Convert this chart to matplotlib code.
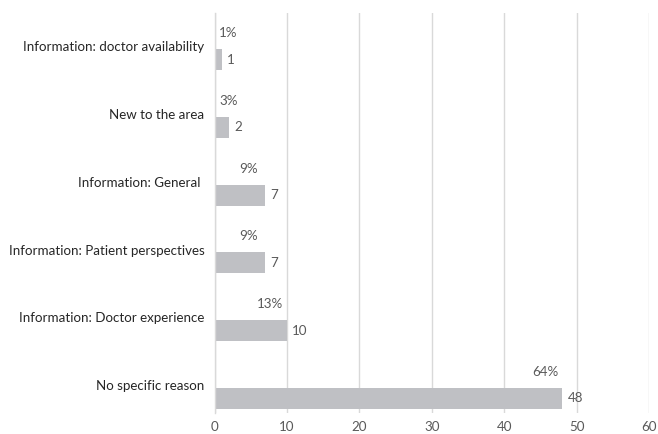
""" Reasons for choosing a doctor - horizontal bar chart

"""

import numpy as np
import matplotlib.pyplot as plt

# --------------------------------------------------
#   Data
# --------------------------------------------------

reasons = [
    "Information: doctor availability",
    "New to the area",
    "Information: General ",
    "Information: Patient perspectives",
    "Information: Doctor experience",
    "No specific reason",
]
counts = [1, 2, 7, 7, 10, 48]
shares = ["1%", "3%", "9%", "9%", "13%", "64%"]
x_ticks = [0, 10, 20, 30, 40, 50, 60]

BAR_COLOR = "#BFC0C4"
GRID_COLOR = "#D9D9D9"
LABEL_COLOR = "#595959"
FONT_SIZE = 9.6

plt.rcParams['font.family'] = ['Lato', 'DejaVu Sans']

# --------------------------------------------------
#   Plot
# --------------------------------------------------

fig = plt.figure(figsize=(6.58, 4.34), dpi=100)
ax = fig.add_axes([0.3263, 0.0484, 0.6600, 0.9216])

pos = np.arange(len(reasons))
ax.barh(pos, counts, height=0.31, color=BAR_COLOR, zorder=2)

# count labels just right of the bars
for y, v in zip(pos, counts):
    ax.annotate(str(v), (v, y), xytext=(3.8, 0), textcoords="offset points",
                ha="left", va="center", fontsize=FONT_SIZE, color=LABEL_COLOR)

# share labels sit above each bar, kept clear of the axis
for y, v, s in zip(pos, counts, shares):
    ax.text(max(v - 2.3, 1.9), y - 0.39, s, ha="center", va="center",
            fontsize=FONT_SIZE, color=LABEL_COLOR)

ax.set_yticks(pos - 0.195)
ax.set_yticklabels(reasons, fontsize=FONT_SIZE, color="#262626")
ax.set_xticks(x_ticks)
ax.set_xticklabels([str(t) for t in x_ticks], fontsize=FONT_SIZE, color=LABEL_COLOR)
ax.set_xlim(0, 60)
ax.set_ylim(5.214, -0.686)

ax.tick_params(axis="y", length=0, pad=7.5)
ax.tick_params(axis="x", length=0, pad=5.5)
ax.grid(axis="x", color=GRID_COLOR, linewidth=1.0, zorder=0)
for side in ("top", "right", "bottom"):
    ax.spines[side].set_visible(False)
ax.spines["left"].set_color(GRID_COLOR)
ax.spines["left"].set_linewidth(1.0)

fig.savefig("out.png", dpi=100)
